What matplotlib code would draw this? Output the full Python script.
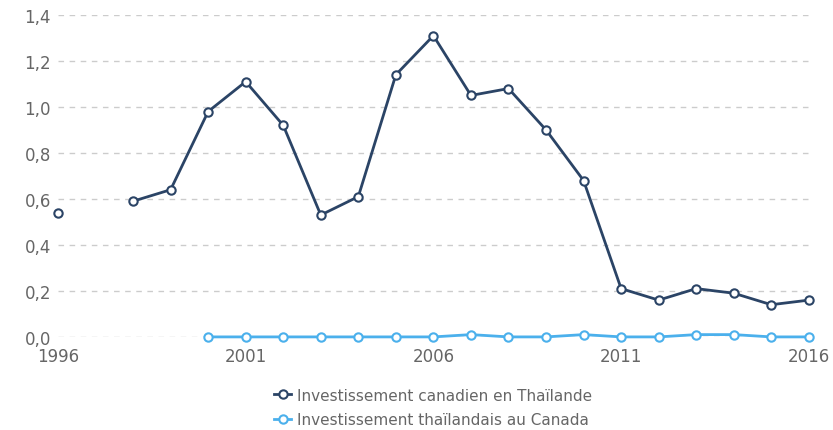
import matplotlib
matplotlib.use("Agg")
import matplotlib.pyplot as plt
import numpy as np

years = list(range(1996, 2017))
canadian = [0.54, np.nan, 0.59, 0.64, 0.98, 1.11, 0.92, 0.53, 0.61, 1.14, 1.31,
            1.05, 1.08, 0.90, 0.68, 0.21, 0.16, 0.21, 0.19, 0.14, 0.16]
thai = [np.nan, np.nan, np.nan, np.nan, 0.0, 0.0, 0.0, 0.0, 0.0, 0.0, 0.0,
        0.01, 0.0, 0.0, 0.01, 0.0, 0.0, 0.01, 0.01, 0.0, 0.0]
labels = ["Investissement canadien en Thaïlande",
          "Investissement thaïlandais au Canada"]
xticks = [1996, 2001, 2006, 2011, 2016]
yticks = [0.0, 0.2, 0.4, 0.6, 0.8, 1.0, 1.2, 1.4]

dark = "#2b4466"
light = "#4bb0ec"

fig = plt.figure(figsize=(8.33, 4.31), dpi=100)
ax = fig.add_axes([0.0696, 0.216, 0.9014, 0.747])

for vals, c, lab in [(canadian, dark, labels[0]), (thai, light, labels[1])]:
    ax.plot(years, vals, color=c, lw=2, marker="o", ms=6,
            mfc="white", mec=c, mew=1.5, label=lab, clip_on=False, zorder=3)

ax.set_xlim(1996, 2016)
ax.set_ylim(0, 1.4)
ax.set_xticks(xticks)
ax.set_yticks(yticks)
ax.set_yticklabels([f"{v:.1f}".replace(".", ",") for v in yticks])
ax.tick_params(length=0, labelsize=12, labelcolor="#666666", pad=5)
ax.tick_params(axis="x", pad=7)
ax.grid(axis="y", color="#cccccc", ls=(0, (4, 4)), lw=1)
for s in ax.spines.values():
    s.set_visible(False)

leg = fig.legend(loc="upper center", bbox_to_anchor=(0.52, 0.13), frameon=False,
                 fontsize=11, handlelength=1.1, handletextpad=0.4, labelspacing=0.6)
for t in leg.get_texts():
    t.set_color("#666666")

fig.savefig("out.png", dpi=100)
